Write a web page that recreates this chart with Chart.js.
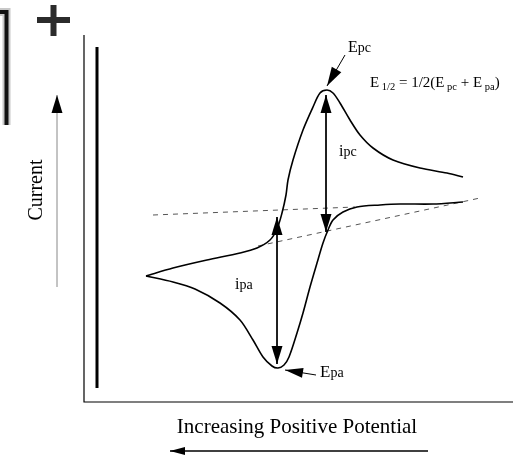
<!DOCTYPE html>
<html>
<head>
<meta charset="utf-8">
<script src="https://cdn.jsdelivr.net/npm/chart.js@4"></script>
<style>
  html, body { margin: 0; padding: 0; background: #fff; }
</style>
</head>
<body>
<canvas id="cv" width="514" height="456"></canvas>
<script>
// cyclic voltammogram, arbitrary units (origin = axes corner)
const returnPotential = [379, 363, 336, 309, 289, 276, 266, 256, 249, 243, 236, 229, 219, 209, 204, 202, 198, 193, 186, 173, 156, 123, 89, 62];
const returnCurrent   = [225, 229, 234, 242, 254, 267, 282, 299, 309, 312, 309, 295, 272, 242, 222, 207, 189, 173, 162, 154, 149, 142, 134, 126];
const forwardPotential = [62, 89, 111, 136, 156, 169, 179, 188, 194, 200, 205, 213, 219, 226, 233, 239, 244, 249, 259, 273, 296, 316, 349, 379];
const forwardCurrent   = [126, 120, 113, 99, 82, 62, 45, 36, 34, 37, 45, 69, 89, 115, 139, 159, 172, 182, 190, 195, 197, 198, 198, 200];

// baselines (dashed)
const upperBaseline = [[69, 187], [271, 195]];
const lowerBaseline = [[174, 156], [396, 204]];

// arrows [from, to]
const ipcArrow = [[242, 307], [242, 170]];
const ipaArrow = [[193, 185], [193, 38]];
const epcArrow = [[261, 347], [243, 316]];
const epaArrow = [[232, 27], [201, 32]];
const currentArrow = [[-27, 115], [-27, 307]];
const potentialArrow = [[344, -49], [86, -49]];

const toPts = (xs, ys) => xs.map((v, i) => ({ x: v, y: ys[i] }));
const seg = p => p.map(([x, y]) => ({ x, y }));

// note: lower dataset index is drawn on top
const line = (data, extra) => Object.assign({
  data, showLine: true, pointRadius: 0, borderColor: "#000", borderWidth: 1,
  fill: false, clip: false, tension: 0
}, extra);

const arrowStyles = [
  { pts: ipcArrow, both: true, len: 18, half: 5.5 },
  { pts: ipaArrow, both: true, len: 18, half: 5.5 },
  { pts: epcArrow, both: false, len: 19, half: 5.5 },
  { pts: epaArrow, both: false, len: 18, half: 5 },
  { pts: currentArrow, both: false, len: 18, half: 5.5 },
  { pts: potentialArrow, both: false, len: 15, half: 4 },
];

const SERIF = "'Liberation Serif', 'DejaVu Serif', serif";

// text runs: [text, fontSize, baselineShift]
const labels = [
  { at: [264, 350], runs: [["E", 16, 0], ["pc", 14, 0]] },
  { at: [236, 25], runs: [["E", 17, 0], ["pa", 14, 0]] },
  { at: [255, 246], runs: [["i", 16, 0], ["pc", 14, 0]] },
  { at: [151, 113], runs: [["i", 16, 0], ["pa", 14, 0]] },
  { at: [286, 315], runs: [["E", 15, 0], [" 1/2", 10.5, 3], [" = 1/2(E", 15, 0], [" pc", 10.5, 3], [" + E", 15, 0], [" pa", 10.5, 3], [")", 15, 0]] },
];

const decor = {
  id: "decor",
  afterDatasetsDraw(chart) {
    const { ctx, scales: { x, y } } = chart;
    const P = ([a, b]) => [x.getPixelForValue(a), y.getPixelForValue(b)];
    ctx.save();
    ctx.fillStyle = "#000";
    const head = (from, to, len, half) => {
      const [x0, y0] = P(from), [x1, y1] = P(to);
      const d = Math.hypot(x1 - x0, y1 - y0), ux = (x1 - x0) / d, uy = (y1 - y0) / d;
      const bx = x1 - ux * len, by = y1 - uy * len;
      ctx.beginPath();
      ctx.moveTo(x1, y1);
      ctx.lineTo(bx - uy * half, by + ux * half);
      ctx.lineTo(bx + uy * half, by - ux * half);
      ctx.closePath();
      ctx.fill();
    };
    arrowStyles.forEach(a => {
      head(a.pts[0], a.pts[1], a.len, a.half);
      if (a.both) head(a.pts[1], a.pts[0], a.len, a.half);
    });

    ctx.textBaseline = "alphabetic";
    ctx.textAlign = "left";
    labels.forEach(l => {
      let [cx, cy] = P(l.at);
      l.runs.forEach(([t, s, dy]) => {
        ctx.font = s + "px " + SERIF;
        ctx.fillText(t, cx, cy + dy);
        cx += ctx.measureText(t).width;
      });
    });

    // axis titles
    ctx.font = "20px " + SERIF;
    ctx.textAlign = "center";
    const [tx, ty] = P([-42, 212]);
    ctx.save();
    ctx.translate(tx, ty);
    ctx.rotate(-Math.PI / 2);
    ctx.fillText("Current", 0, 0);
    ctx.restore();
    const [bx, by] = P([213, -31]);
    ctx.font = "21px " + SERIF;
    ctx.fillText("Increasing Positive Potential", bx, by);
    ctx.restore();
  }
};

new Chart(document.getElementById("cv"), {
  type: "scatter",
  data: {
    datasets: [
      // voltammogram
      line(toPts(returnPotential, returnCurrent), { borderWidth: 1.6, tension: 0.3 }),
      line(toPts(forwardPotential, forwardCurrent), { borderWidth: 1.6, tension: 0.3 }),
      // arrow shafts
      line(seg(ipcArrow)),
      line(seg(ipaArrow)),
      line(seg(epcArrow)),
      line(seg(epaArrow)),
      line(seg(currentArrow), { borderColor: "#888" }),
      line(seg(potentialArrow), { borderWidth: 1.3 }),
      // dashed baselines
      line(seg(upperBaseline), { borderDash: [5, 5], borderColor: "#555" }),
      line(seg(lowerBaseline), { borderDash: [5, 5], borderColor: "#555" }),
      // axes
      line(seg([[0, 367], [0, 0], [429, 0]]), { borderWidth: 1.2 }),
      // thick reference bar
      line(seg([[13, 14], [13, 355]]), { borderWidth: 3 }),
      // bracket and plus sign
      line(seg([[-84, 390], [-77.5, 390], [-77.5, 277]]), { borderWidth: 4, borderColor: "#111" }),
      line(seg([[-84, 390], [-77.5, 390], [-77.5, 277]]), { borderWidth: 8, borderColor: "#c8c8c8" }),
      line(seg([[-47, 382], [-14, 382]]), { borderWidth: 6, borderColor: "#2b2b2b" }),
      line(seg([[-30.5, 397], [-30.5, 366]]), { borderWidth: 6, borderColor: "#2b2b2b" }),
    ]
  },
  options: {
    responsive: false,
    animation: false,
    devicePixelRatio: 1,
    layout: { padding: 0 },
    plugins: { legend: { display: false }, tooltip: { enabled: false }, title: { display: false } },
    scales: {
      x: { type: "linear", min: -84, max: 430, display: false },
      y: { type: "linear", min: -54, max: 402, display: false },
    },
  },
  plugins: [decor],
});
</script>
</body>
</html>
